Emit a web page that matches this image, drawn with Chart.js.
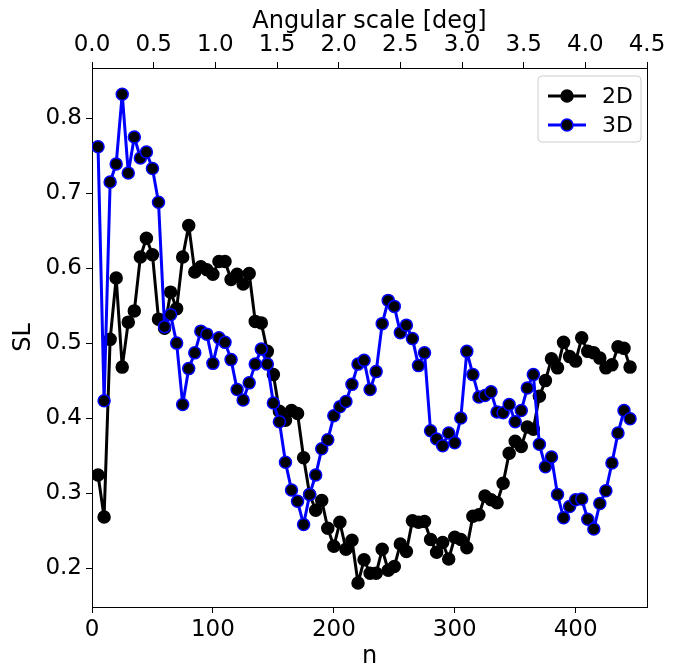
<!DOCTYPE html>
<html>
<head>
<meta charset="utf-8">
<script src="https://cdn.jsdelivr.net/npm/chart.js@4.4.1/dist/chart.umd.min.js"></script>
<style>
  body { margin: 0; background: #fff; }
  #wrap { width: 675px; height: 668px; }
</style>
</head>
<body>
<div id="wrap"><canvas id="slChart" width="675" height="668"></canvas></div>
<script>
// multipole index n (same for both curves)
const nValues = [5, 10, 15, 20, 25, 30, 35, 40, 45, 50, 55, 60, 65, 70, 75, 80, 85, 90, 95, 100,
  105, 110, 115, 120, 125, 130, 135, 140, 145, 150, 155, 160, 165, 170, 175, 180, 185, 190, 195, 200,
  205, 210, 215, 220, 225, 230, 235, 240, 245, 250, 255, 260, 265, 270, 275, 280, 285, 290, 295, 300,
  305, 310, 315, 320, 325, 330, 335, 340, 345, 350, 355, 360, 365, 370, 375, 380, 385, 390, 395, 400,
  405, 410, 415, 420, 425, 430, 435, 440, 445];

const sl2D = [0.324, 0.268, 0.505, 0.587, 0.468, 0.528, 0.543, 0.615, 0.640, 0.618, 0.532, 0.520, 0.568, 0.546, 0.615, 0.657, 0.595, 0.602, 0.598, 0.592,
  0.609, 0.609, 0.585, 0.592, 0.579, 0.593, 0.529, 0.527, 0.489, 0.458, 0.409, 0.397, 0.410, 0.406, 0.347, 0.298, 0.277, 0.290, 0.253, 0.229,
  0.261, 0.225, 0.237, 0.180, 0.211, 0.193, 0.193, 0.225, 0.197, 0.202, 0.232, 0.222, 0.263, 0.261, 0.262, 0.238, 0.221, 0.234, 0.212, 0.241,
  0.238, 0.227, 0.269, 0.271, 0.296, 0.291, 0.287, 0.313, 0.353, 0.369, 0.362, 0.388, 0.385, 0.429, 0.450, 0.479, 0.467, 0.501, 0.482, 0.476,
  0.507, 0.489, 0.487, 0.480, 0.467, 0.471, 0.495, 0.493, 0.468];

const sl3D = [0.762, 0.423, 0.715, 0.739, 0.832, 0.727, 0.775, 0.747, 0.755, 0.733, 0.688, 0.522, 0.538, 0.500, 0.418, 0.466, 0.487, 0.516, 0.512, 0.473,
  0.507, 0.501, 0.478, 0.438, 0.424, 0.447, 0.472, 0.492, 0.472, 0.420, 0.395, 0.341, 0.304, 0.289, 0.258, 0.298, 0.324, 0.359, 0.371, 0.403,
  0.415, 0.422, 0.445, 0.472, 0.477, 0.438, 0.462, 0.526, 0.557, 0.549, 0.514, 0.524, 0.506, 0.470, 0.487, 0.383, 0.372, 0.363, 0.380, 0.367,
  0.400, 0.489, 0.458, 0.428, 0.430, 0.435, 0.408, 0.407, 0.418, 0.395, 0.410, 0.440, 0.458, 0.365, 0.335, 0.348, 0.298, 0.267, 0.282, 0.291,
  0.292, 0.265, 0.252, 0.286, 0.303, 0.340, 0.380, 0.410, 0.399];

const nTicks = [0, 100, 200, 300, 400];
const angTicks = [0.0, 0.5, 1.0, 1.5, 2.0, 2.5, 3.0, 3.5, 4.0, 4.5];
const slTicks = [0.2, 0.3, 0.4, 0.5, 0.6, 0.7, 0.8];

Chart.defaults.font.family = "'DejaVu Sans', sans-serif";
Chart.defaults.font.size = 23;
Chart.defaults.color = '#000';

const toPoints = ys => ys.map((y, i) => ({ x: nValues[i], y: y }));
const fixTicks = list => scale => { scale.ticks = list.map(v => ({ value: v })); };

// matplotlib-like legend box drawn inside the axes
const boxLegend = {
    id: 'boxLegend',
    afterDraw(chart) {
        const ctx = chart.ctx;
        const area = chart.chartArea;
        const w = 103, h = 66;
        const x0 = area.right - w - 6, y0 = area.top + 8;
        ctx.save();
        ctx.beginPath();
        ctx.roundRect(x0, y0, w, h, 4);
        ctx.fillStyle = 'rgba(255,255,255,0.8)';
        ctx.fill();
        ctx.strokeStyle = '#cccccc';
        ctx.lineWidth = 1;
        ctx.stroke();
        chart.data.datasets.forEach((ds, i) => {
            const yy = y0 + 20 + i * 29;
            ctx.beginPath();
            ctx.moveTo(x0 + 10, yy);
            ctx.lineTo(x0 + 48, yy);
            ctx.strokeStyle = ds.borderColor;
            ctx.lineWidth = ds.borderWidth;
            ctx.stroke();
            ctx.beginPath();
            ctx.arc(x0 + 29, yy, ds.pointRadius, 0, Math.PI * 2);
            ctx.fillStyle = ds.pointBackgroundColor;
            ctx.fill();
            ctx.lineWidth = ds.pointBorderWidth;
            ctx.strokeStyle = ds.pointBorderColor;
            ctx.stroke();
            ctx.fillStyle = '#000';
            ctx.font = "22px 'DejaVu Sans'";
            ctx.textBaseline = 'middle';
            ctx.fillText(ds.label, x0 + 64, yy + 1);
        });
        ctx.restore();
    }
};

const tickGrid = { drawOnChartArea: false, drawTicks: true, tickLength: 6, tickWidth: 1, tickColor: '#000' };
const spine = { display: true, color: '#000', width: 1 };

new Chart(document.getElementById('slChart').getContext('2d'), {
    type: 'line',
    data: {
        datasets: [
            {
                label: '2D',
                data: toPoints(sl2D),
                borderColor: '#000',
                borderWidth: 3,
                borderJoinStyle: 'round',
                pointRadius: 6,
                pointBorderWidth: 1.5,
                pointBackgroundColor: '#000',
                pointBorderColor: '#000',
                tension: 0,
                order: 2
            },
            {
                label: '3D',
                data: toPoints(sl3D),
                borderColor: '#0000ff',
                borderWidth: 3,
                borderJoinStyle: 'round',
                pointRadius: 6,
                pointBorderWidth: 1.5,
                pointBackgroundColor: '#000',
                pointBorderColor: '#0000ff',
                tension: 0,
                order: 1
            }
        ]
    },
    options: {
        responsive: false,
        animation: false,
        layout: { padding: 0 },
        plugins: {
            legend: { display: false },
            tooltip: { enabled: false }
        },
        scales: {
            x: {
                type: 'linear',
                position: 'bottom',
                min: 0,
                max: 459,
                afterBuildTicks: fixTicks(nTicks),
                afterFit: s => { s.height = 61; },
                ticks: { padding: 3, maxRotation: 0 },
                grid: tickGrid,
                border: spine,
                title: { display: true, text: 'n', font: { size: 24 }, padding: { top: 0, bottom: -3 } }
            },
            xTop: {
                type: 'linear',
                position: 'top',
                min: 0,
                max: 4.5,
                afterBuildTicks: fixTicks(angTicks),
                afterFit: s => { s.height = 68; },
                ticks: { padding: 3, maxRotation: 0, callback: v => v.toFixed(1) },
                grid: tickGrid,
                border: spine,
                title: { display: true, text: 'Angular scale [deg]', font: { size: 24 }, padding: { top: 7, bottom: 0 } }
            },
            y: {
                type: 'linear',
                position: 'left',
                min: 0.148,
                max: 0.867,
                afterBuildTicks: fixTicks(slTicks),
                afterFit: s => { s.width = 92; },
                ticks: { padding: 4, callback: v => v.toFixed(1) },
                grid: tickGrid,
                border: spine,
                title: { display: true, text: 'SL', font: { size: 24 }, padding: { top: 9, bottom: 0 } }
            },
            yRight: {
                type: 'linear',
                position: 'right',
                min: 0.148,
                max: 0.867,
                afterFit: s => { s.width = 28; },
                ticks: { display: false },
                grid: { drawOnChartArea: false, drawTicks: false },
                border: spine
            }
        }
    },
    plugins: [boxLegend]
});
</script>
</body>
</html>
